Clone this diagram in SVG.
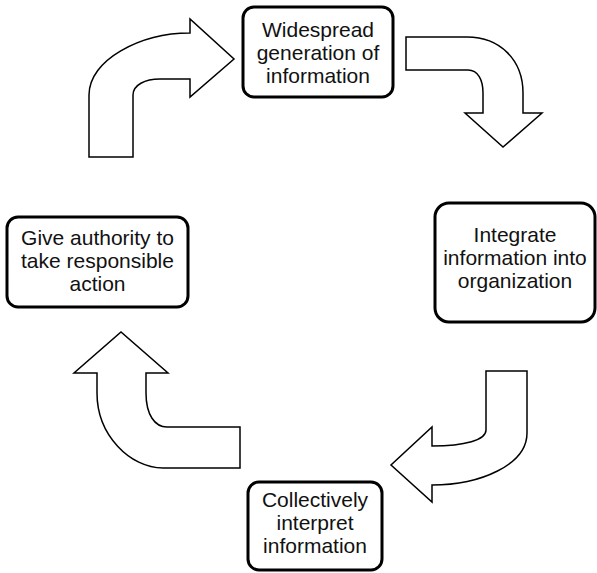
<svg xmlns="http://www.w3.org/2000/svg" width="597" height="573" viewBox="0 0 597 573">
<style>
.box{fill:#fff;stroke:#000;stroke-width:3}
.arr{fill:#fff;stroke:#000;stroke-width:1.5;stroke-linejoin:miter}
text{font-family:"Liberation Sans",Arial,sans-serif;font-size:21px;fill:#111;text-anchor:middle}
</style>
<rect width="597" height="573" fill="#fff"/>
<g id="connectors">
<path class="arr" d="M89,157 L89,95 C89,60 140,33 190,33 L190,19 L234,59 L190,97 L190,79 L160,79 C145,79 133,85 133,95 L133,157 Z"/>
<path class="arr" d="M406,37 L467,37 C500,37 523,60 523,93 L523,113 L542,113 L503,147 L465,113 L483,113 L483,93 C483,80 478,70 468,70 L406,70 Z"/>
<path class="arr" d="M486,371 L527,371 L527,433 C527,465 480,485 432,485 L432,502 L391,465 L432,427 L432,446 C465,446 486,440 486,430 Z"/>
<path class="arr" d="M240,427 L240,468 L163,468 C130,468 97,435 97,393 L97,373 L74,373 L121,332 L168,373 L146,373 L146,393 C146,415 155,427 167,427 Z"/>
</g>
<g id="n1">
<rect class="box" x="243" y="7" width="150" height="90" rx="11"/>
<text x="318" y="37">Widespread</text>
<text x="318" y="60">generation of</text>
<text x="318" y="83">information</text>
</g>
<g id="n2">
<rect class="box" x="435" y="203" width="160" height="119" rx="14"/>
<text x="515" y="242">Integrate</text>
<text x="515" y="265">information into</text>
<text x="515" y="288">organization</text>
</g>
<g id="n3">
<rect class="box" x="248" y="482" width="134" height="88" rx="11"/>
<text x="315" y="507">Collectively</text>
<text x="315" y="530">interpret</text>
<text x="315" y="553">information</text>
</g>
<g id="n4">
<rect class="box" x="7" y="217" width="181" height="90" rx="11"/>
<text x="97.5" y="245">Give authority to</text>
<text x="97.5" y="268">take responsible</text>
<text x="97.5" y="291">action</text>
</g>
</svg>
